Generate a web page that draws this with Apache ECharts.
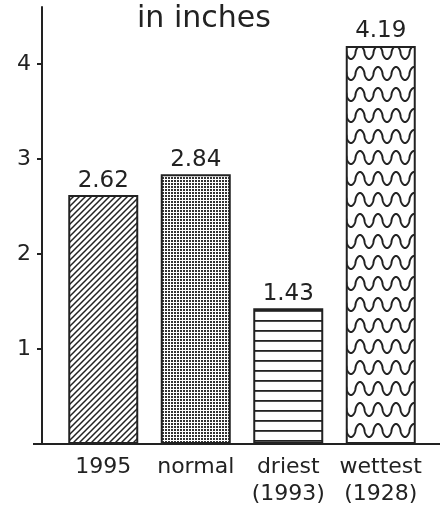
<!DOCTYPE html>
<html>
<head>
<meta charset="utf-8">
<script src="https://cdn.jsdelivr.net/npm/echarts@6/dist/echarts.min.js"></script>
<style>
html,body{margin:0;padding:0;background:#fff;}
#c{width:440px;height:508px;}
</style>
</head>
<body>
<div id="c"></div>
<script>
// ---- data ----
var categories = ['1995', 'normal', 'driest\n(1993)', 'wettest\n(1928)'];
var rainfall = [2.62, 2.84, 1.43, 4.19];
var yTickValues = [1, 2, 3, 4];
var titleText = 'in inches';

// ---- pattern tiles ----
var INK = '#222';
function tile(w, h, draw) {
  var cv = document.createElement('canvas');
  cv.width = w; cv.height = h;
  var ctx = cv.getContext('2d');
  ctx.fillStyle = '#fff';
  ctx.fillRect(0, 0, w, h);
  draw(ctx, w, h);
  return { image: cv, repeat: 'repeat' };
}
var diagPattern = tile(6, 6, function (ctx, w, h) {
  ctx.strokeStyle = INK; ctx.lineWidth = 1.5;
  ctx.beginPath();
  ctx.moveTo(-1, 7); ctx.lineTo(7, -1);
  ctx.moveTo(-1, 1); ctx.lineTo(1, -1);
  ctx.moveTo(5, 7); ctx.lineTo(7, 5);
  ctx.stroke();
});
var dotPattern = tile(3, 3, function (ctx) {
  ctx.fillStyle = '#333';
  ctx.fillRect(0, 0, 2, 2);
});
var hLinePattern = tile(4, 10, function (ctx) {
  ctx.fillStyle = INK;
  ctx.fillRect(0, 0, 4, 1.8);
});
var wavePattern = tile(18, 21, function (ctx, w, h) {
  ctx.strokeStyle = INK; ctx.lineWidth = 2;
  ctx.beginPath();
  for (var x = -2; x <= w + 2; x += 0.25) {
    var s = Math.cos(2 * Math.PI * x / w);
    var y = 10.5 - 6.5 * Math.sign(s) * Math.pow(Math.abs(s), 0.6);
    if (x === -2) ctx.moveTo(x, y); else ctx.lineTo(x, y);
  }
  ctx.stroke();
});
var patterns = [diagPattern, dotPattern, hLinePattern, wavePattern];

var FONT = 'DejaVu Sans';
var TEXT = '#222';

var chart = echarts.init(document.getElementById('c'), null, { renderer: 'canvas' });
chart.setOption({
  animation: false,
  backgroundColor: '#fff',
  title: {
    text: titleText,
    left: 137,
    top: 2,
    padding: 0,
    textStyle: { fontFamily: FONT, fontSize: 30, fontWeight: 'normal', color: TEXT, lineHeight: 34 }
  },
  grid: { left: 57, right: 13, top: 7, bottom: 64, containLabel: false },
  xAxis: {
    type: 'category',
    data: categories,
    axisLine: { show: false },
    axisTick: { show: false },
    axisLabel: {
      fontFamily: FONT, fontSize: 22, color: TEXT, margin: 10, lineHeight: 27,
      interval: 0
    }
  },
  yAxis: {
    type: 'value',
    min: 0,
    max: 4.6,
    offset: 15,
    splitLine: { show: false },
    axisLine: { show: true, lineStyle: { color: INK, width: 2 } },
    axisTick: { show: true, length: 5, lineStyle: { color: INK, width: 2 }, customValues: yTickValues },
    axisLabel: { fontFamily: FONT, fontSize: 22, color: TEXT, margin: 11, customValues: yTickValues }
  },
  graphic: [{
    type: 'line',
    shape: { x1: 33, y1: 444, x2: 440, y2: 444 },
    style: { stroke: INK, lineWidth: 2 },
    z: 10
  }],
  series: [{
    type: 'bar',
    barWidth: 70,
    data: rainfall.map(function (v, i) {
      return { value: v, itemStyle: { color: patterns[i] } };
    }),
    itemStyle: { borderColor: INK, borderWidth: 2 },
    label: {
      show: true,
      position: 'top',
      distance: 3,
      fontFamily: FONT,
      fontSize: 23,
      color: TEXT,
      formatter: function (p) { return p.value.toFixed(2); }
    }
  }]
});
</script>
</body>
</html>
